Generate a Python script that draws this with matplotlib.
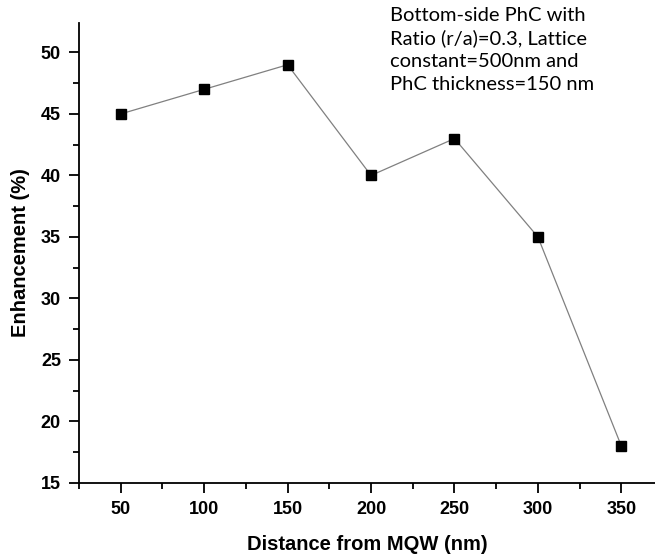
import matplotlib
matplotlib.use('Agg')
import matplotlib.pyplot as plt
from matplotlib.ticker import MultipleLocator

distance = [50, 100, 150, 200, 250, 300, 350]
enhancement = [45, 47, 49, 40, 43, 35, 18]
xticks = [50, 100, 150, 200, 250, 300, 350]
yticks = [15, 20, 25, 30, 35, 40, 45, 50]

fig = plt.figure(figsize=(6.55, 5.59), dpi=100)
ax = fig.add_axes([0.1206, 0.136, 0.879, 0.823])

ax.plot(distance, enhancement, color='#808080', linewidth=0.9,
        marker='s', markersize=6.5, markerfacecolor='black', markeredgecolor='black')

ax.set_xlim(25, 370)
ax.set_ylim(15, 52.4)
ax.set_xticks(xticks)
ax.set_yticks(yticks)
ax.xaxis.set_minor_locator(MultipleLocator(25))
ax.yaxis.set_minor_locator(MultipleLocator(2.5))

ax.spines['top'].set_visible(False)
ax.spines['right'].set_visible(False)
for s in ['left', 'bottom']:
    ax.spines[s].set_linewidth(1.3)

ax.tick_params(which='major', direction='out', length=7, width=1.3, pad=6)
ax.tick_params(which='minor', direction='out', length=4, width=1.3)
for lab in ax.get_xticklabels() + ax.get_yticklabels():
    lab.set_fontfamily('Liberation Sans')
    lab.set_fontweight('bold')
    lab.set_fontsize(13)

ax.set_xlabel('Distance from MQW (nm)', fontfamily='Liberation Sans',
              fontweight='bold', fontsize=14.5, labelpad=12)
ax.set_ylabel('Enhancement (%)', fontfamily='Liberation Sans',
              fontweight='bold', fontsize=14.5, labelpad=8)

fig.text(0.595, 0.988,
         'Bottom-side PhC with\nRatio (r/a)=0.3, Lattice\nconstant=500nm and\nPhC thickness=150 nm',
         fontfamily='Lato', fontsize=14.5, va='top', ha='left', linespacing=1.4)

fig.savefig('out.png', dpi=100)
